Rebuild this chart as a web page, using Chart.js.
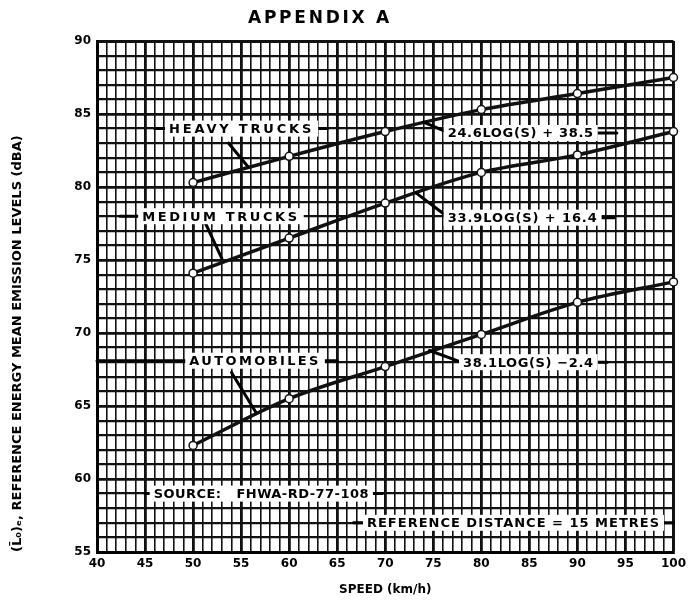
<!DOCTYPE html>
<html>
<head>
<meta charset="utf-8">
<script src="https://cdn.jsdelivr.net/npm/chart.js@4/dist/chart.umd.min.js"></script>
<style>html,body{margin:0;padding:0;background:#fff}</style>
</head>
<body>
<canvas id="chart" width="691" height="606"></canvas>
<script>
// speed (km/h) and reference energy mean emission level (dBA)
const speeds = [50, 60, 70, 80, 90, 100];
const heavyTrucks = [80.3, 82.1, 83.8, 85.3, 86.4, 87.5];
const mediumTrucks = [74.1, 76.5, 78.9, 81.0, 82.2, 83.8];
const automobiles = [62.3, 65.5, 67.7, 69.9, 72.1, 73.5];

const xTickLabels = [40, 45, 50, 55, 60, 65, 70, 75, 80, 85, 90, 95, 100];
const yTickLabels = [55, 60, 65, 70, 75, 80, 85, 90];

const chartTitle = 'APPENDIX A';
const xTitle = 'SPEED (km/h)';
const yTitle = '(L\u0304\u2080)\u2091, REFERENCE ENERGY MEAN EMISSION LEVELS (dBA)';

// labels on the chart: text, span in km/h, level in dBA, leader segments
const notes = [
    { text: 'HEAVY TRUCKS', from: 47.5, to: 62.6, v: 84.0,
      leaders: [[46.0, 84.0, 47.3, 84.0], [62.8, 84.0, 64.0, 84.0], [53.7, 83.0, 55.7, 81.4]] },
    { text: '24.6LOG(S) + 38.5', from: 76.5, to: 91.7, v: 83.7,
      leaders: [[74.0, 84.45, 76.3, 83.8], [91.9, 83.7, 94.1, 83.7]] },
    { text: 'MEDIUM TRUCKS', from: 44.7, to: 61.1, v: 78.0,
      leaders: [[42.4, 78.0, 44.5, 78.0], [51.3, 77.5, 53.0, 75.1]] },
    { text: '33.9LOG(S) + 16.4', from: 76.5, to: 92.1, v: 77.9,
      leaders: [[73.2, 79.6, 76.0, 78.2], [92.3, 77.9, 93.8, 77.9]] },
    { text: 'AUTOMOBILES', from: 49.6, to: 63.3, v: 68.1,
      leaders: [[40.0, 68.1, 49.4, 68.1], [63.5, 68.1, 65.0, 68.1], [54.0, 67.3, 56.5, 64.6]] },
    { text: '38.1LOG(S) \u22122.4', from: 78.1, to: 91.7, v: 68.0,
      leaders: [[74.6, 68.8, 77.9, 68.0], [91.9, 68.0, 93.1, 68.0]] },
    { text: 'SOURCE:   FHWA-RD-77-108', from: 45.9, to: 68.3, v: 59.0,
      leaders: [[45.0, 59.0, 45.7, 59.0], [68.5, 59.0, 69.7, 59.0]] },
    { text: 'REFERENCE DISTANCE = 15 METRES', from: 68.1, to: 98.6, v: 57.0,
      leaders: [[66.7, 57.0, 67.9, 57.0], [98.8, 57.0, 100, 57.0]] }
];

const FONT = "'DejaVu Sans', sans-serif";

function toPoints(values) {
    return speeds.map((s, i) => ({ x: s, y: values[i] }));
}

function fitText(ctx, text, x1, x2, y, size) {
    ctx.font = 'bold ' + size + 'px ' + FONT;
    ctx.letterSpacing = '0px';
    const w0 = ctx.measureText(text).width;
    const ls = (x2 - x1 - w0) / text.length;
    ctx.letterSpacing = ls + 'px';
    ctx.textAlign = 'left';
    ctx.textBaseline = 'middle';
    ctx.fillText(text, x1, y);
    ctx.letterSpacing = '0px';
}

const notesPlugin = {
    id: 'notes',
    afterDatasetsDraw(chart) {
        const ctx = chart.ctx;
        const xs = chart.scales.x, ys = chart.scales.y;
        ctx.save();
        ctx.strokeStyle = '#000';
        ctx.lineWidth = 3;
        ctx.lineCap = 'round';
        notes.forEach(n => {
            n.leaders.forEach(l => {
                ctx.beginPath();
                ctx.moveTo(xs.getPixelForValue(l[0]), ys.getPixelForValue(l[1]));
                ctx.lineTo(xs.getPixelForValue(l[2]), ys.getPixelForValue(l[3]));
                ctx.stroke();
            });
        });
        notes.forEach(n => {
            const x1 = xs.getPixelForValue(n.from);
            const x2 = xs.getPixelForValue(n.to);
            const y = ys.getPixelForValue(n.v);
            ctx.fillStyle = '#fff';
            ctx.fillRect(x1 - 4, y - 8, x2 - x1 + 8, 16);
            ctx.fillStyle = '#000';
            fitText(ctx, n.text, x1, x2, y + 1, 13);
        });
        // page heading
        ctx.fillStyle = '#000';
        fitText(ctx, chartTitle, 248, 392, 19, 17);
        ctx.restore();
    }
};

const gridWidth = (c, major, minor) => {
    const v = c.tick.value;
    return v % 5 === 0 ? major : minor;
};

const series = [
    { label: 'Heavy trucks', data: heavyTrucks },
    { label: 'Medium trucks', data: mediumTrucks },
    { label: 'Automobiles', data: automobiles }
];

new Chart(document.getElementById('chart'), {
    type: 'line',
    data: {
        datasets: series.map(s => ({
            label: s.label,
            data: toPoints(s.data),
            borderColor: '#111',
            borderWidth: 3.5,
            pointRadius: 4,
            pointBackgroundColor: '#fff',
            pointBorderColor: '#111',
            pointBorderWidth: 1.5,
            cubicInterpolationMode: 'monotone',
            clip: false
        }))
    },
    options: {
        responsive: false,
        animation: false,
        layout: { padding: { top: 41, right: 11, left: 0, bottom: 0 } },
        plugins: {
            legend: { display: false },
            tooltip: { enabled: false }
        },
        scales: {
            x: {
                type: 'linear',
                min: 40,
                max: 100,
                afterFit: s => { s.height = 54; },
                border: { display: true, color: '#000', width: 3 },
                grid: {
                    drawTicks: false,
                    color: '#111',
                    lineWidth: c => c.tick.value === 100 ? 3 : gridWidth(c, 2.8, 1.6)
                },
                ticks: {
                    stepSize: 1,
                    autoSkip: false,
                    maxRotation: 0,
                    padding: 5,
                    color: '#000',
                    font: { family: FONT, size: 12, weight: 'bold' },
                    callback: v => xTickLabels.includes(v) ? String(v) : ''
                },
                title: {
                    display: true,
                    text: xTitle,
                    color: '#000',
                    font: { family: FONT, size: 12, weight: 'bold' },
                    padding: { top: 0, bottom: 9 }
                }
            },
            y: {
                min: 55,
                max: 90,
                afterFit: s => { s.width = 97; },
                border: { display: true, color: '#000', width: 3 },
                grid: {
                    drawTicks: false,
                    color: '#111',
                    lineWidth: c => c.tick.value === 90 ? 3 : gridWidth(c, 2.8, 2.2)
                },
                ticks: {
                    stepSize: 1,
                    autoSkip: false,
                    padding: 6,
                    color: '#000',
                    font: { family: FONT, size: 12, weight: 'bold' },
                    callback: v => yTickLabels.includes(v) ? String(v) : ''
                },
                title: {
                    display: true,
                    text: yTitle,
                    align: 'start',
                    color: '#000',
                    font: { family: FONT, size: 13, weight: 'bold' },
                    padding: { top: 10, bottom: 0 }
                }
            }
        }
    },
    plugins: [notesPlugin]
});
</script>
</body>
</html>
